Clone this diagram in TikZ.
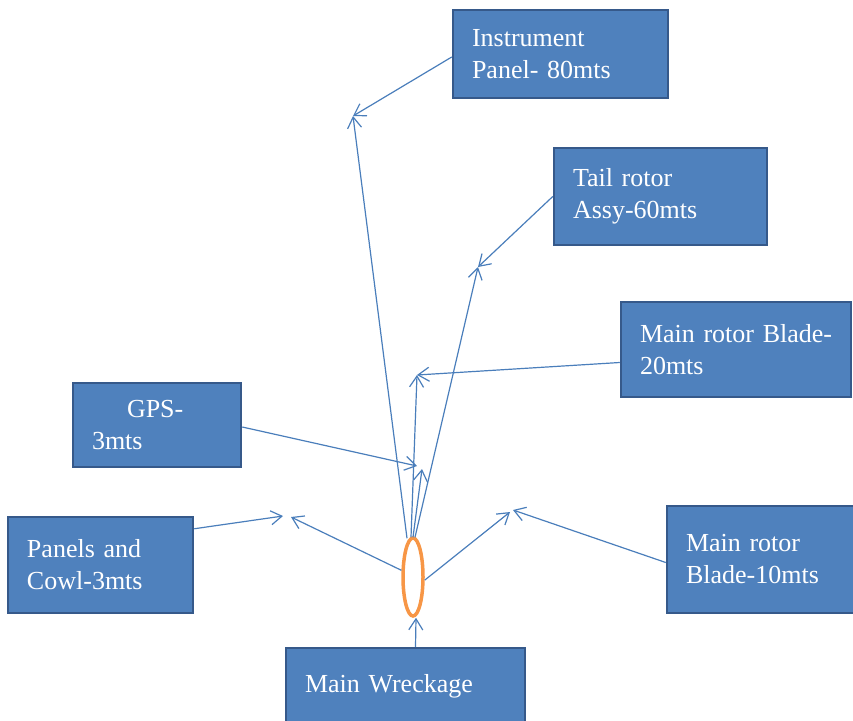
\documentclass[tikz,border=0pt]{standalone}
\usepackage{fontspec}
\setmainfont{Liberation Serif}
\usetikzlibrary{arrows.meta,shapes.geometric,calc}
\definecolor{boxfill}{HTML}{4F81BD}
\definecolor{boxline}{HTML}{36598A}
\definecolor{linec}{HTML}{4A7EBB}
\definecolor{ringc}{HTML}{F79646}
\begin{document}
\begin{tikzpicture}[x=1pt,y=-1pt,
  box/.style={rectangle, fill=boxfill, draw=boxline, line width=2.5pt, text=white,
    align=left, inner xsep=19pt, inner ysep=0pt,
    font=\fontsize{26}{32}\selectfont},
  arr/.style={draw=linec, line width=1.2pt, -{Straight Barb[length=11pt,width=14pt]}}]
\useasboundingbox (0,0) rectangle (853,720);
% boxes
\node[box, minimum width=215, minimum height=88, text width=177] (ip) at (560.5,54) {Instrument\\Panel- 80mts};
\node[box, minimum width=213, minimum height=97, text width=175] (tr) at (660.5,196.5) {Tail rotor\\Assy-60mts};
\node[box, minimum width=230, minimum height=95, text width=192] (mb20) at (736,349.5) {\mbox{Main rotor Blade-}\\20mts};
\node[box, minimum width=168, minimum height=84, text width=130] (gps) at (157,425) {\hspace*{35pt}GPS-\\3mts};
\node[box, minimum width=185, minimum height=96, text width=147] (pc) at (100.5,565) {Panels and\\Cowl-3mts};
\node[box, minimum width=188, minimum height=107, text width=150] (mb10) at (761,559.5) {Main rotor\\Blade-10mts};
\node[box, minimum width=239, minimum height=76, text width=201] (mw) at (405.5,686) {Main Wreckage};
% wreckage ring
\node[ellipse, draw=ringc, line width=3.5pt, minimum width=20, minimum height=78, inner sep=0pt] (ring) at (413,577) {};
% meeting points
\coordinate (pInst) at (353,116);
\coordinate (pTail) at (478,267);
\coordinate (pB20) at (417,375);
\coordinate (pGpsA) at (417,466);
\coordinate (pGpsB) at (422,469);
\coordinate (pPcA) at (283,516);
\coordinate (pPcB) at (291,517);
\coordinate (pB10A) at (513,510);
\coordinate (pB10B) at (510,512);
% box-side connectors
\draw[arr] ($(ip.west)+(0,3)$) -- (pInst);
\draw[arr] (tr.west) -- (pTail);
\draw[arr] ($(mb20.west)+(0,13)$) -- (pB20);
\draw[arr] ($(gps.east)+(0,2)$) -- (pGpsA);
\draw[arr] ($(pc.north east)+(0,13)$) -- (pPcA);
\draw[arr] ($(mb10.west)+(0,3)$) -- (pB10A);
% ring-side connectors
\draw[arr] ($(ring.north)+(-6,2)$) -- (pInst);
\draw[arr] ($(ring.north)+(2,1)$) -- (pTail);
\draw[arr] ($(ring.north)+(-2,1)$) -- (pB20);
\draw[arr] ($(ring.north)+(0,1)$) -- (pGpsB);
\draw[arr] (ring.150) -- (pPcB);
\draw[arr] (ring.-15) -- (pB10B);
\draw[arr] ($(mw.north)+(10,0)$) -- ($(ring.south)+(3,0)$);
\end{tikzpicture}
\end{document}
